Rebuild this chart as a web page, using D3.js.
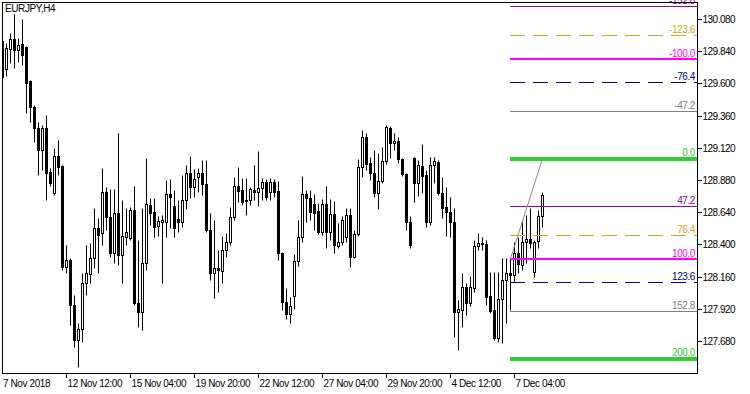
<!DOCTYPE html>
<html>
<head>
<meta charset="utf-8">
<script src="https://cdn.jsdelivr.net/npm/d3@7"></script>
<style>
  body { margin: 0; background: #fff; }
  svg { display: block; font-family: "Liberation Sans", Arial, sans-serif; }
</style>
</head>
<body>
<svg id="chart" width="750" height="394"></svg>
<script>
// EURJPY H4 candles (bar 0 = 7 Nov 2018 20:00)
const opens = [
  129.916, 129.707, 129.856, 129.931, 129.849, 129.894, 129.871, 129.618, 129.424, 129.268,
  129.104, 129.268, 128.940, 128.783, 129.059, 128.984, 128.232, 128.284, 127.948, 127.688,
  127.770, 128.112, 128.179, 128.299, 128.522, 128.485, 128.791, 128.604, 128.336, 128.634,
  128.321, 128.455, 128.448, 128.656, 127.963, 127.896, 128.261, 128.694, 128.642, 128.537,
  128.567, 128.567, 128.776, 128.686, 128.589, 128.567, 128.731, 128.932, 128.828, 128.902,
  128.932, 128.850, 128.507, 128.187, 128.224, 128.202, 128.358, 128.418, 128.604, 128.835,
  128.806, 128.724, 128.731, 128.806, 128.791, 128.820, 128.865, 128.791, 128.865, 128.798,
  128.336, 127.971, 127.881, 128.015, 128.276, 128.455, 128.776, 128.746, 128.701, 128.649,
  128.492, 128.701, 128.492, 128.627, 128.388, 128.418, 128.455, 128.619, 128.306, 128.478,
  128.977, 129.201, 129.007, 128.932, 128.783, 128.873, 129.022, 129.268, 129.156, 129.171,
  129.037, 128.925, 128.567, 129.044, 128.858, 128.984, 128.917, 128.567, 128.992, 129.014,
  128.783, 128.679, 128.642, 128.567, 127.896, 127.911, 128.083, 127.963, 128.075, 128.388,
  128.410, 128.403, 128.015, 127.911, 127.702, 127.993, 128.135, 128.187, 128.172, 128.336,
  128.247, 128.418, 128.440, 128.194, 128.425, 128.612
];
const highs = [
  129.953, 129.901, 129.976, 130.117, 129.938, 130.080, 129.879, 129.625, 129.439, 129.312,
  129.290, 129.365, 128.969, 129.119, 129.178, 128.992, 128.396, 128.299, 128.023, 127.814,
  128.187, 128.396, 128.410, 128.671, 128.597, 128.969, 128.828, 128.813, 128.813, 129.230,
  128.731, 128.671, 128.679, 128.835, 128.433, 128.671, 129.044, 128.746, 128.746, 128.612,
  128.619, 128.880, 128.887, 128.806, 128.731, 128.917, 128.992, 129.059, 128.962, 128.969,
  129.029, 129.029, 128.634, 128.582, 128.358, 128.463, 128.485, 128.679, 128.902, 128.977,
  128.895, 128.895, 128.828, 128.992, 129.096, 128.895, 128.887, 128.895, 128.887, 128.873,
  128.343, 128.075, 128.008, 128.328, 128.582, 128.910, 128.806, 128.806, 128.776, 128.709,
  128.738, 128.835, 128.738, 128.724, 128.560, 128.612, 128.671, 128.671, 128.507, 129.037,
  129.253, 129.230, 129.051, 129.104, 129.081, 129.126, 129.290, 129.283, 129.230, 129.201,
  129.044, 128.932, 128.612, 129.051, 129.029, 129.148, 128.955, 129.051, 129.051, 129.029,
  128.902, 128.828, 128.753, 128.671, 127.986, 128.187, 128.112, 128.165, 128.433, 128.485,
  128.455, 128.433, 128.194, 128.194, 128.194, 128.299, 128.299, 128.299, 128.418, 128.455,
  128.582, 128.619, 128.671, 128.433, 128.656, 128.791
];
const lows = [
  129.625, 129.655, 129.752, 129.715, 129.760, 129.737, 129.379, 129.312, 129.163, 128.917,
  128.955, 128.731, 128.835, 128.768, 128.917, 128.209, 128.187, 127.799, 127.635, 127.486,
  127.673, 128.023, 128.112, 128.224, 128.187, 128.396, 128.507, 128.306, 128.261, 128.247,
  128.112, 128.396, 128.433, 127.948, 127.784, 127.762, 128.209, 128.545, 128.455, 128.463,
  128.112, 128.455, 128.522, 128.455, 128.492, 128.530, 128.664, 128.746, 128.753, 128.791,
  128.768, 128.492, 128.135, 128.001, 128.045, 128.112, 128.306, 128.396, 128.582, 128.716,
  128.694, 128.619, 128.694, 128.731, 128.686, 128.731, 128.731, 128.731, 128.753, 128.284,
  127.911, 127.844, 127.814, 127.919, 128.239, 128.418, 128.567, 128.582, 128.507, 128.478,
  128.470, 128.373, 128.433, 128.336, 128.373, 128.396, 128.418, 128.232, 128.299, 128.463,
  128.902, 128.955, 128.880, 128.753, 128.664, 128.858, 128.999, 129.044, 129.104, 129.007,
  128.910, 128.507, 128.373, 128.716, 128.761, 128.783, 128.530, 128.545, 128.858, 128.768,
  128.597, 128.463, 128.455, 127.710, 127.613, 127.784, 127.874, 127.941, 128.045, 128.358,
  128.358, 127.948, 127.889, 127.688, 127.673, 127.665, 127.814, 127.911, 128.120, 128.187,
  128.209, 128.261, 128.373, 128.157, 128.373, 128.530
];
const closes = [
  129.648, 129.864, 129.931, 129.849, 129.886, 129.812, 129.603, 129.424, 129.268, 129.104,
  129.268, 128.932, 128.858, 129.059, 128.977, 128.232, 128.284, 127.948, 127.688, 127.770,
  128.112, 128.187, 128.299, 128.522, 128.470, 128.791, 128.604, 128.336, 128.634, 128.321,
  128.463, 128.492, 128.656, 127.963, 127.896, 128.261, 128.701, 128.634, 128.530, 128.574,
  128.582, 128.776, 128.753, 128.522, 128.567, 128.731, 128.932, 128.828, 128.887, 128.932,
  128.850, 128.507, 128.187, 128.224, 128.209, 128.358, 128.418, 128.604, 128.835, 128.798,
  128.716, 128.731, 128.813, 128.791, 128.820, 128.865, 128.753, 128.865, 128.791, 128.336,
  127.971, 127.881, 127.941, 128.276, 128.455, 128.776, 128.746, 128.642, 128.634, 128.492,
  128.701, 128.492, 128.627, 128.396, 128.418, 128.582, 128.619, 128.306, 128.478, 128.977,
  129.201, 128.999, 128.932, 128.783, 128.873, 129.022, 129.275, 129.156, 129.171, 129.037,
  128.925, 128.567, 128.396, 128.858, 128.992, 128.910, 128.567, 128.992, 129.022, 128.783,
  128.671, 128.642, 128.567, 127.896, 127.919, 128.083, 127.963, 128.083, 128.388, 128.410,
  128.403, 128.008, 127.904, 127.702, 127.993, 128.135, 128.187, 128.172, 128.336, 128.254,
  128.418, 128.440, 128.410, 128.418, 128.612, 128.768
];

const timeLabels = ["7 Nov 2018", "12 Nov 12:00", "15 Nov 04:00", "19 Nov 20:00", "22 Nov 12:00",
                    "27 Nov 04:00", "29 Nov 20:00", "4 Dec 12:00", "7 Dec 04:00"];
const timeLabelBars = [0, 16, 32, 48, 64, 80, 96, 112, 128];
const priceTicks = [127.680, 127.920, 128.160, 128.400, 128.640, 128.880, 129.120, 129.360, 129.600, 129.840, 130.080];

// fibonacci retracement: anchor bars / prices
const fiboBars = [127, 135];
const fiboPrices = [128.294, 129.039];
const fiboLevels = [-152.8, -123.6, -100, -76.4, -47.2, 0, 47.2, 76.4, 100, 123.6, 152.8, 200];
const fiboColors = ["#8a0a9e", "#daa520", "#ff00ff", "#000080", "#808080", "#32cd32",
                    "#8a0a9e", "#daa520", "#ff00ff", "#000080", "#808080", "#32cd32"];
const fiboWidths = [1, 1, 2, 1, 1, 4, 1, 1, 2, 1, 1, 4];
const fiboDashed = [false, true, false, true, false, false, false, true, false, true, false, false];

const svg = d3.select("#chart");
const plotLeft = 2, plotRight = 697, plotTop = 2, plotBottom = 373;

const x = d3.scaleLinear().domain([0, 135]).range([2.5, 542.5]);
const y = d3.scaleLinear().domain([127.68, 130.08]).range([341, 19]);
const snap = v => Math.round(v) + 0.5;

svg.append("defs").append("clipPath").attr("id", "plot")
    .append("rect").attr("x", plotLeft).attr("y", plotTop)
    .attr("width", plotRight - plotLeft).attr("height", plotBottom - plotTop);

const plot = svg.append("g").attr("clip-path", "url(#plot)");

let candles = opens.map(function (o, i) {
    return {i: i, o: o, h: highs[i], l: lows[i], c: closes[i]};
});

// wicks
plot.selectAll("line.wick").data(candles).enter().append("line")
    .attr("class", "wick")
    .attr("x1", d => x(d.i)).attr("x2", d => x(d.i))
    .attr("y1", d => snap(y(d.h))).attr("y2", d => snap(y(d.l)))
    .attr("stroke", "#000").attr("stroke-width", 1);

// bodies
plot.selectAll("rect.body").data(candles).enter().append("rect")
    .attr("class", "body")
    .attr("x", d => x(d.i) - 1).attr("width", 2)
    .attr("y", d => snap(y(Math.max(d.o, d.c))))
    .attr("height", d => Math.max(1, snap(y(Math.min(d.o, d.c))) - snap(y(Math.max(d.o, d.c)))))
    .attr("fill", d => d.c >= d.o ? "#fff" : "#000")
    .attr("stroke", "#000").attr("stroke-width", 1);

// fibo levels
const fHigh = fiboPrices[1], fLow = fiboPrices[0];
const levelPrice = lv => fHigh - lv / 100 * (fHigh - fLow);
let levels = fiboLevels.map(function (lv, k) {
    return {lv: lv, p: levelPrice(lv), color: fiboColors[k], w: fiboWidths[k], dash: fiboDashed[k]};
});

plot.selectAll("line.level").data(levels).enter().append("line")
    .attr("class", "level")
    .attr("x1", x(fiboBars[0]) - 0.5).attr("x2", plotRight)
    .attr("y1", d => d.w % 2 ? snap(y(d.p)) : Math.round(y(d.p)))
    .attr("y2", d => d.w % 2 ? snap(y(d.p)) : Math.round(y(d.p)))
    .attr("stroke", d => d.color)
    .attr("stroke-width", d => d.w)
    .attr("shape-rendering", "crispEdges")
    .attr("stroke-dasharray", d => d.dash ? "15,8" : null);

svg.selectAll("text.level").data(levels).enter().append("text")
    .attr("class", "level")
    .attr("x", 695)
    .attr("y", d => Math.round(y(d.p)) - Math.ceil(d.w / 2) - 1)
    .attr("text-anchor", "end")
    .attr("font-size", 10).attr("letter-spacing", -0.4)
    .attr("fill", d => d.color)
    .text(d => d.lv.toFixed(1));

// trend line of the fibo
plot.append("line")
    .attr("x1", x(fiboBars[0])).attr("y1", y(fiboPrices[0]))
    .attr("x2", x(fiboBars[1])).attr("y2", y(fiboPrices[1]))
    .attr("stroke", "#888").attr("stroke-width", 1);

// frame
svg.append("rect")
    .attr("x", plotLeft + 0.5).attr("y", plotTop + 0.5)
    .attr("width", plotRight - plotLeft).attr("height", plotBottom - plotTop)
    .attr("fill", "none").attr("stroke", "#000");

// price axis
let pAxis = svg.append("g");
pAxis.selectAll("line").data(priceTicks).enter().append("line")
    .attr("x1", plotRight).attr("x2", plotRight + 5)
    .attr("y1", d => snap(y(d))).attr("y2", d => snap(y(d)))
    .attr("stroke", "#000");
pAxis.selectAll("text").data(priceTicks).enter().append("text")
    .attr("x", plotRight + 5.5).attr("y", d => snap(y(d)) + 3.5)
    .attr("font-size", 10).attr("letter-spacing", -0.5)
    .attr("fill", "#000")
    .text(d => d.toFixed(3));

// time axis
let tAxis = svg.append("g");
tAxis.selectAll("line").data(timeLabelBars.slice(1)).enter().append("line")
    .attr("x1", d => Math.floor(x(d)) + 0.5).attr("x2", d => Math.floor(x(d)) + 0.5)
    .attr("y1", plotBottom).attr("y2", plotBottom + 5)
    .attr("stroke", "#000");
tAxis.selectAll("text").data(timeLabels).enter().append("text")
    .attr("x", (d, i) => i === 0 ? 3 : Math.floor(x(timeLabelBars[i])) + 1.5)
    .attr("y", 387)
    .attr("font-size", 10).attr("letter-spacing", -0.4)
    .attr("fill", "#000")
    .text(d => d);

// symbol caption
svg.append("text")
    .attr("x", 5).attr("y", 12)
    .attr("font-size", 10).attr("letter-spacing", -0.4)
    .attr("fill", "#000")
    .text("EURJPY,H4");
</script>
</body>
</html>
